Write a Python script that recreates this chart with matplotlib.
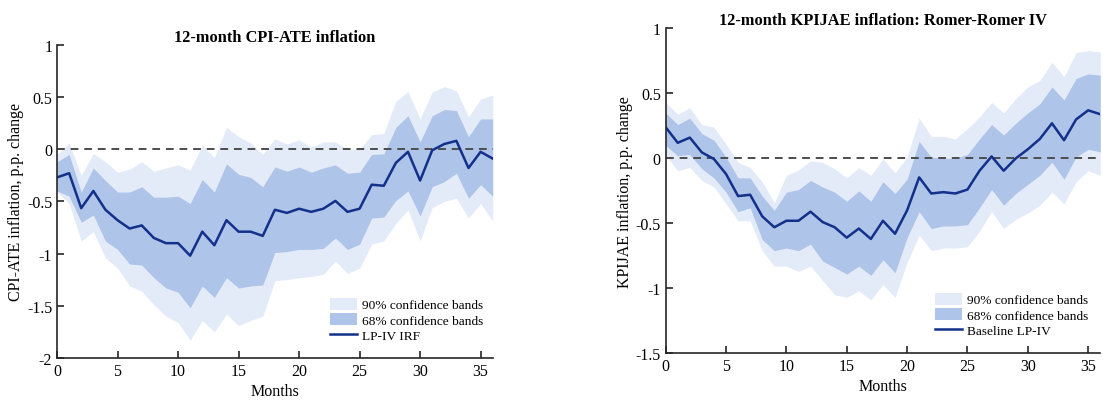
import numpy as np
import matplotlib
matplotlib.use('Agg')
import matplotlib.pyplot as plt

plt.rcParams['font.family'] = ['Liberation Serif', 'DejaVu Serif']

months = np.arange(37)

# Left panel: CPI-ATE, LP-IV IRF with 68% / 90% bands
cpi_irf = [-0.27, -0.23, -0.565, -0.40, -0.58, -0.68, -0.76, -0.73, -0.85, -0.90,
           -0.90, -1.02, -0.79, -0.92, -0.68, -0.79, -0.79, -0.83, -0.58, -0.61,
           -0.57, -0.60, -0.57, -0.495, -0.60, -0.57, -0.34, -0.35, -0.13, -0.025,
           -0.30, -0.01, 0.05, 0.08, -0.18, -0.025, -0.09]
cpi_hi68 = [-0.12, -0.05, -0.41, -0.18, -0.30, -0.41, -0.41, -0.36, -0.46, -0.46,
            -0.45, -0.52, -0.29, -0.41, -0.14, -0.24, -0.27, -0.36, -0.17, -0.21,
            -0.17, -0.22, -0.18, -0.15, -0.23, -0.22, -0.05, -0.045, 0.21, 0.32,
            0.07, 0.32, 0.38, 0.37, 0.12, 0.29, 0.29]
cpi_lo68 = [-0.40, -0.45, -0.70, -0.63, -0.88, -0.96, -1.10, -1.11, -1.23, -1.33,
            -1.37, -1.52, -1.31, -1.42, -1.23, -1.33, -1.31, -1.30, -0.99, -0.98,
            -0.96, -0.96, -0.95, -0.85, -0.96, -0.91, -0.66, -0.65, -0.49, -0.40,
            -0.64, -0.36, -0.31, -0.23, -0.47, -0.34, -0.45]
cpi_hi90 = [-0.05, 0.06, -0.25, -0.04, -0.12, -0.22, -0.19, -0.12, -0.21, -0.18,
            -0.15, -0.20, 0.04, -0.08, 0.21, 0.12, 0.06, -0.05, 0.10, 0.05,
            0.09, 0.02, 0.07, 0.07, 0.0, 0.0, 0.14, 0.15, 0.46, 0.55,
            0.29, 0.55, 0.60, 0.56, 0.31, 0.48, 0.52]
cpi_lo90 = [-0.41, -0.52, -0.88, -0.79, -1.04, -1.14, -1.31, -1.36, -1.49, -1.60,
            -1.66, -1.83, -1.64, -1.75, -1.58, -1.69, -1.64, -1.60, -1.26, -1.25,
            -1.23, -1.22, -1.20, -1.07, -1.19, -1.14, -0.91, -0.88, -0.71, -0.58,
            -0.88, -0.56, -0.50, -0.47, -0.66, -0.52, -0.69]

# Right panel: KPIJAE, Romer-Romer IV
kpi_irf = [0.24, 0.12, 0.16, 0.046, -0.005, -0.12, -0.29, -0.28, -0.446, -0.53,
           -0.48, -0.48, -0.41, -0.49, -0.53, -0.61, -0.54, -0.62, -0.48, -0.58,
           -0.40, -0.146, -0.27, -0.26, -0.27, -0.24, -0.095, 0.015, -0.095, 0.0,
           0.07, 0.15, 0.27, 0.14, 0.30, 0.37, 0.34]
kpi_hi68 = [0.35, 0.26, 0.31, 0.19, 0.14, 0.01, -0.15, -0.15, -0.29, -0.40,
            -0.26, -0.24, -0.17, -0.22, -0.26, -0.33, -0.25, -0.33, -0.18, -0.27,
            -0.16, 0.13, 0.01, 0.0, 0.0, 0.03, 0.15, 0.26, 0.18, 0.27,
            0.35, 0.42, 0.55, 0.45, 0.615, 0.65, 0.64]
kpi_lo68 = [0.10, 0.02, 0.03, -0.08, -0.15, -0.26, -0.41, -0.38, -0.625, -0.71,
            -0.69, -0.71, -0.66, -0.79, -0.84, -0.89, -0.83, -0.90, -0.78, -0.88,
            -0.61, -0.41, -0.54, -0.52, -0.52, -0.51, -0.38, -0.24, -0.36, -0.27,
            -0.20, -0.13, -0.03, -0.16, 0.01, 0.07, 0.05]
kpi_hi90 = [0.43, 0.34, 0.39, 0.26, 0.24, 0.11, -0.03, -0.07, -0.18, -0.34,
            -0.13, -0.09, -0.02, -0.03, -0.08, -0.15, -0.07, -0.13, -0.005, -0.11,
            0.01, 0.31, 0.17, 0.17, 0.15, 0.23, 0.32, 0.43, 0.35, 0.46,
            0.55, 0.60, 0.74, 0.63, 0.815, 0.83, 0.82]
kpi_lo90 = [0.02, -0.095, -0.07, -0.17, -0.22, -0.35, -0.48, -0.48, -0.71, -0.83,
            -0.83, -0.87, -0.83, -0.94, -1.05, -1.07, -1.02, -1.09, -0.97, -1.07,
            -0.80, -0.59, -0.71, -0.69, -0.69, -0.68, -0.56, -0.41, -0.54, -0.47,
            -0.42, -0.36, -0.26, -0.35, -0.18, -0.095, -0.13]

light = '#e4ebf8'
mid = '#aec4e8'
navy = '#13308a'

fig = plt.figure(figsize=(11.03, 4.02), dpi=100)
ax1 = fig.add_axes([0.0517, 0.107, 0.395, 0.779])
ax2 = fig.add_axes([0.6035, 0.1187, 0.394, 0.808])


def draw(ax, irf, lo68, hi68, lo90, hi90, line_label, title, ylabel, ylim, yticks, yticklabels):
    ax.fill_between(months, lo90, hi90, color=light, lw=0, label='90% confidence bands')
    ax.fill_between(months, lo68, hi68, color=mid, lw=0, label='68% confidence bands')
    ax.axhline(0, color='#4d4d4d', ls=(0, (4, 3)), lw=1.4)
    ax.plot(months, irf, color=navy, lw=1.8, label=line_label)
    ax.set_xlim(0, 36)
    ax.set_ylim(*ylim)
    ax.set_xticks([0, 5, 10, 15, 20, 25, 30, 35])
    ax.set_yticks(yticks)
    ax.set_yticklabels(yticklabels)
    for s in ['top', 'right']:
        ax.spines[s].set_visible(False)
    for s in ['left', 'bottom']:
        ax.spines[s].set_color('#262626')
        ax.spines[s].set_linewidth(1.2)
    ax.tick_params(direction='in', length=5, width=1.2, labelsize=11.5, color='#262626')
    ax.set_xlabel('Months', fontsize=11.5, labelpad=3)
    ax.set_ylabel(ylabel, fontsize=11.5, labelpad=2)
    ax.set_title(title, fontsize=11.8, fontweight='bold', pad=3)
    ax.legend(loc='lower right', frameon=False, fontsize=9.6,
              handlelength=2.0, handleheight=1.0, handletextpad=0.4,
              labelspacing=0.15, borderpad=0.2)
    return ax.get_legend()


leg1 = draw(ax1, cpi_irf, cpi_lo68, cpi_hi68, cpi_lo90, cpi_hi90, 'LP-IV IRF',
            '12-month CPI-ATE inflation', 'CPI-ATE inflation, p.p. change',
            (-2, 1), [-2, -1.5, -1, -0.5, 0, 0.5, 1],
            ['-2', '-1.5', '-1', '-0.5', '0', '0.5', '1'])
leg2 = draw(ax2, kpi_irf, kpi_lo68, kpi_hi68, kpi_lo90, kpi_hi90, 'Baseline LP-IV',
            '12-month KPIJAE inflation: Romer-Romer IV', 'KPIJAE inflation, p.p. change',
            (-1.5, 1), [-1.5, -1, -0.5, 0, 0.5, 1],
            ['-1.5', '-1', '-0.5', '0', '0.5', '1'])
leg1.set_bbox_to_anchor((1.0, 0.02), transform=ax1.transAxes)
leg2.set_bbox_to_anchor((0.995, 0.02), transform=ax2.transAxes)

fig.savefig('out.png', dpi=100)
